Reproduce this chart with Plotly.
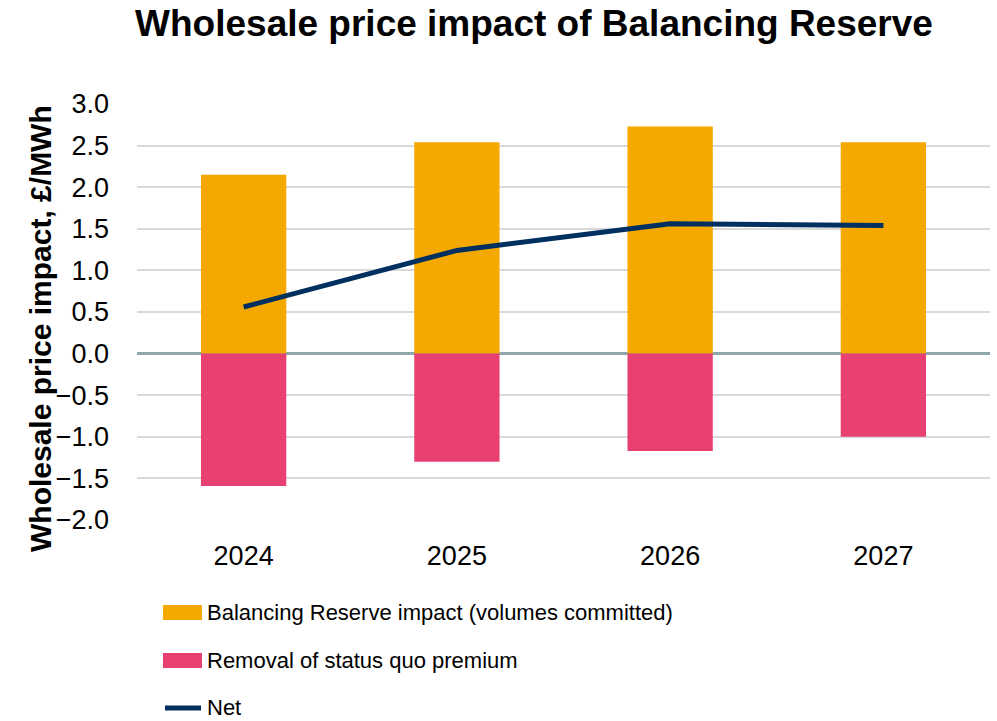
import plotly.graph_objects as go

years = ["2024", "2025", "2026", "2027"]
br_impact = [2.15, 2.54, 2.73, 2.54]
sq_removal = [-1.59, -1.30, -1.17, -1.00]
net = [0.56, 1.24, 1.56, 1.54]
names = ["Balancing Reserve impact (volumes committed)", "Removal of status quo premium", "Net"]

ORANGE = "#F5A800"
PINK = "#E84070"
NAVY = "#00305F"
FONT = "Liberation Sans, Arial, sans-serif"

W, H = 997, 721
# plot area in screenshot pixels: x 137..990, y 104..520
ML, MR, MT, MB = 137, 997 - 990, 104, 721 - 520
PW, PH = W - ML - MR, H - MT - MB


def px(x):
    return (x - ML) / PW


def py(y):
    return (H - MB - y) / PH


fig = go.Figure()
fig.add_trace(go.Bar(x=years, y=br_impact, name=names[0],
                     marker=dict(color=ORANGE, line=dict(width=0))))
fig.add_trace(go.Bar(x=years, y=sq_removal, name=names[1],
                     marker=dict(color=PINK, line=dict(width=0))))
fig.add_trace(go.Scatter(x=years, y=net, name=names[2], mode="lines",
                         line=dict(color=NAVY, width=5)))

# custom legend (shapes + text)
leg_rows = [612, 660, 707]
shapes = [
    dict(type="rect", xref="paper", yref="paper", x0=px(163), x1=px(202),
         y0=py(605), y1=py(620), fillcolor=ORANGE, line=dict(width=0)),
    dict(type="rect", xref="paper", yref="paper", x0=px(163), x1=px(202),
         y0=py(653), y1=py(668), fillcolor=PINK, line=dict(width=0)),
    dict(type="line", xref="paper", yref="paper", x0=px(165), x1=px(201),
         y0=py(708), y1=py(708), line=dict(color=NAVY, width=5)),
]
annotations = [
    dict(text=n, xref="paper", yref="paper", x=px(205), y=py(r), xanchor="left",
         yanchor="middle", showarrow=False,
         font=dict(family=FONT, size=22, color="#000000"))
    for n, r in zip(names, leg_rows)
]
annotations.append(dict(text="<b>Wholesale price impact, £/MWh</b>", textangle=-90,
                        xref="paper", yref="paper", x=px(40), y=py(329),
                        xanchor="center", yanchor="middle", showarrow=False,
                        font=dict(family=FONT, size=30, color="#000000")))

fig.update_layout(
    width=W, height=H,
    margin=dict(l=ML, r=MR, t=MT, b=MB),
    paper_bgcolor="white", plot_bgcolor="white",
    barmode="relative", bargap=0.6,
    showlegend=False,
    title=dict(text="<b>Wholesale price impact of Balancing Reserve</b>",
               font=dict(family=FONT, size=37, color="#000000"),
               x=534 / W, xanchor="center",
               y=1 - 23 / H, yanchor="middle"),
    xaxis=dict(showgrid=False, showline=False, ticks="", automargin=False,
               tickfont=dict(family=FONT, size=27, color="#000000"), ticklabelstandoff=17),
    yaxis=dict(range=[-2, 3], dtick=0.5, tickformat=".1f", showgrid=True, gridcolor="#D9D9D9",
               gridwidth=2, zeroline=True, zerolinecolor="#8FA6AC", zerolinewidth=3,
               automargin=False,
               tickfont=dict(family=FONT, size=27, color="#000000"), ticklabelstandoff=27),
    shapes=shapes,
    annotations=annotations,
)

fig.write_html("out.html", config={"displayModeBar": False},
               post_script="document.body.style.margin='0';document.body.style.overflow='hidden';")
